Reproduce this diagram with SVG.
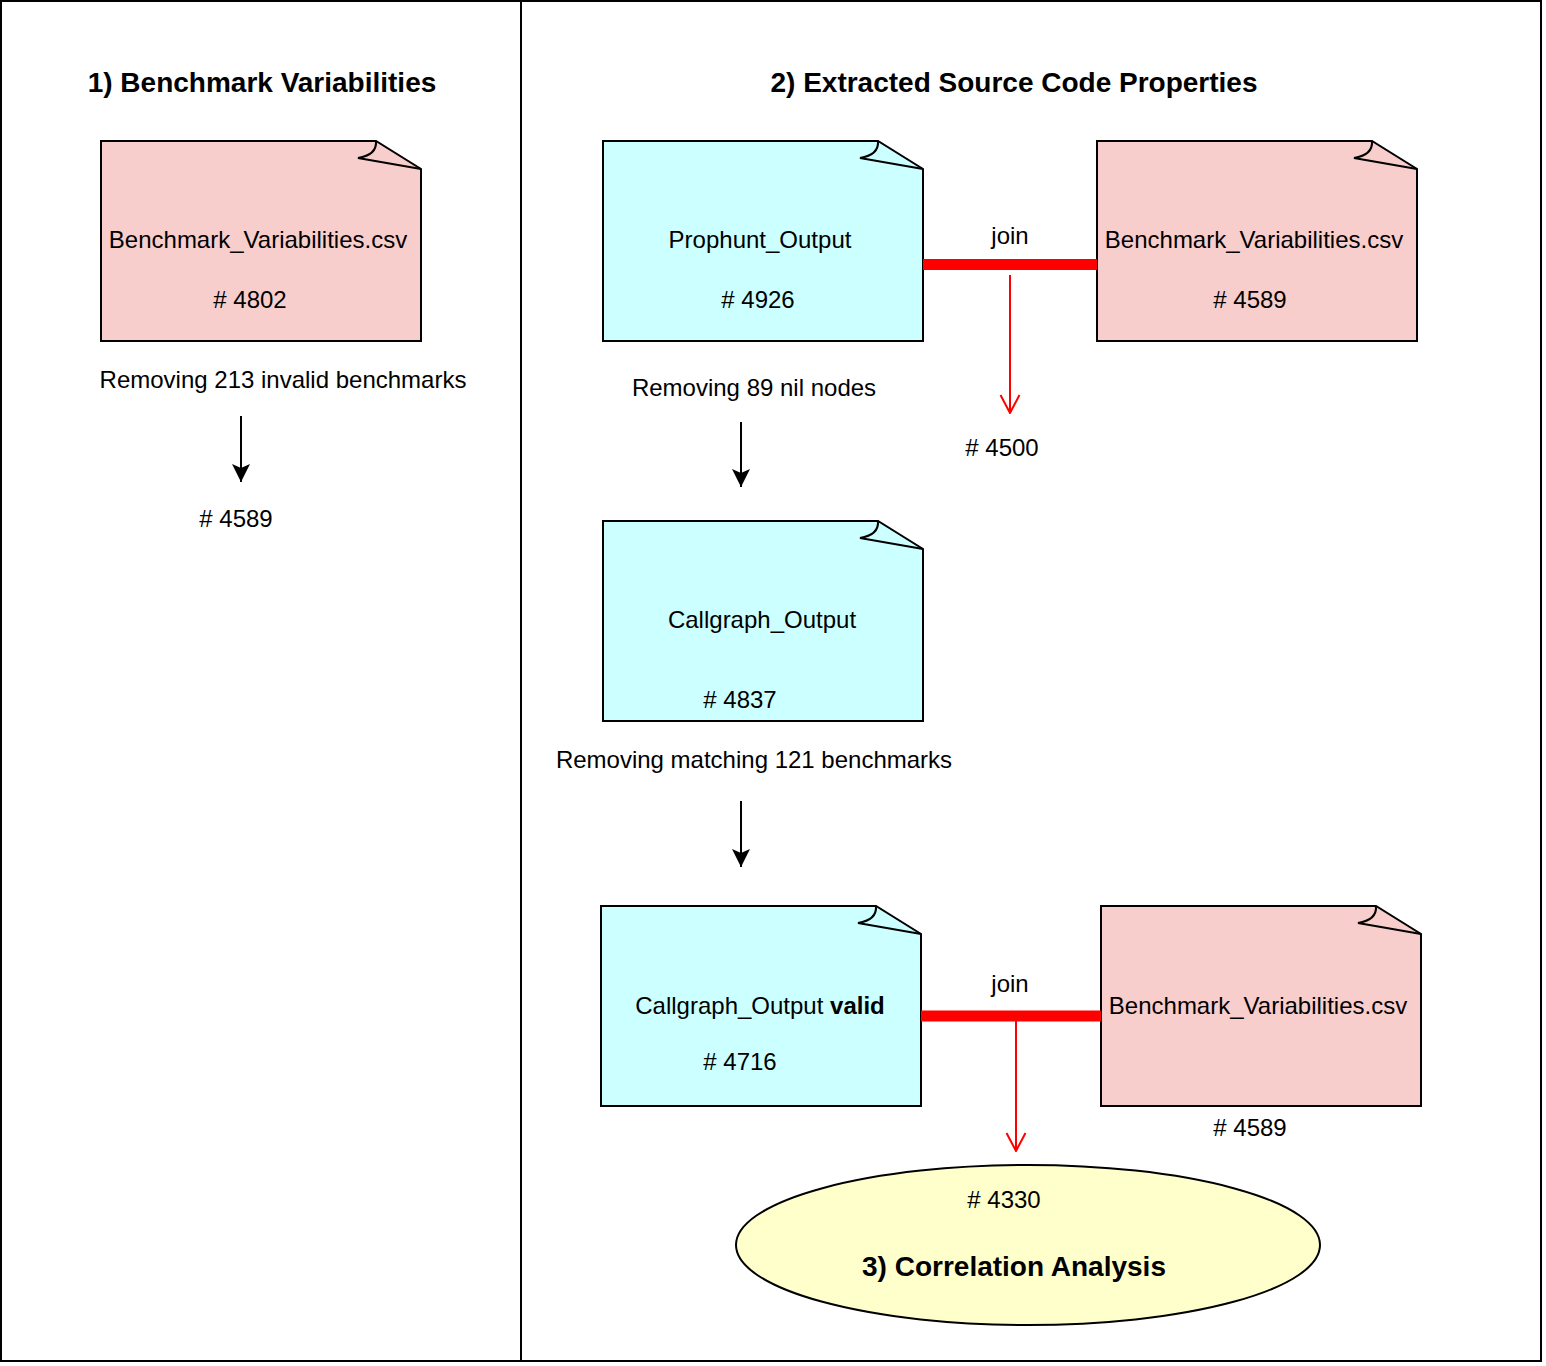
<svg xmlns="http://www.w3.org/2000/svg" width="1546" height="1366" viewBox="0 0 1546 1366">
<style>
text{font-family:"Liberation Sans",Arial,Helvetica,sans-serif;fill:#000;}
.t{font-size:24px;text-anchor:middle;}
.h{font-size:28px;font-weight:bold;text-anchor:middle;}
.doc{stroke:#000;stroke-width:2;}
.pink{fill:#F8CECC;}
.cyan{fill:#CCFFFF;}
.fold{fill:none;stroke:#000;stroke-width:2;}
.blk{stroke:#000;stroke-width:2;fill:none;}
.red{stroke:#FF0000;stroke-width:2;fill:none;}
.join{stroke:#FF0000;stroke-width:11;fill:none;}
</style>
<defs>
<marker id="ab" markerUnits="userSpaceOnUse" viewBox="0 0 18 20" refX="18" refY="10" markerWidth="18" markerHeight="20" orient="auto">
<path d="M0,1 L18,10 L0,19 L4,10 Z" fill="#000"/>
</marker>
<marker id="ar" markerUnits="userSpaceOnUse" viewBox="0 0 20 22" refX="19" refY="11" markerWidth="20" markerHeight="22" orient="auto">
<path d="M1,1.5 L19,11 L1,20.5" fill="none" stroke="#FF0000" stroke-width="2"/>
</marker>
</defs>
<rect x="0" y="0" width="1546" height="1366" fill="#fff"/>
<g id="frame">
<rect x="1" y="1" width="1540" height="1360" fill="none" stroke="#000" stroke-width="2"/>
<line x1="521" y1="1" x2="521" y2="1361" stroke="#000" stroke-width="2"/>
</g>
<g id="titles">
<text class="h" x="262" y="92">1) Benchmark Variabilities</text>
<text class="h" x="1014" y="92">2) Extracted Source Code Properties</text>
</g>
<g id="bench1">
<path class="doc pink" d="M101,141 H376 L421,169 V341 H101 Z"/>
<path class="fold" d="M376,141 Q377,155 358,158 L421,169"/>
<text class="t" x="258" y="248">Benchmark_Variabilities.csv</text>
<text class="t" x="250" y="308"># 4802</text>
</g>
<g id="label-remove213">
<text class="t" x="283" y="388">Removing 213 invalid benchmarks</text>
</g>
<g id="label-4589a">
<text class="t" x="236" y="527"># 4589</text>
</g>
<g id="prophunt">
<path class="doc cyan" d="M603,141 H878 L923,169 V341 H603 Z"/>
<path class="fold" d="M878,141 Q879,155 860,158 L923,169"/>
<text class="t" x="760" y="248">Prophunt_Output</text>
<text class="t" x="758" y="308"># 4926</text>
</g>
<g id="bench2">
<path class="doc pink" d="M1097,141 H1372 L1417,169 V341 H1097 Z"/>
<path class="fold" d="M1372,141 Q1373,155 1354,158 L1417,169"/>
<text class="t" x="1254" y="248">Benchmark_Variabilities.csv</text>
<text class="t" x="1250" y="308"># 4589</text>
</g>
<g id="label-join1">
<text class="t" x="1010" y="244">join</text>
</g>
<g id="label-4500">
<text class="t" x="1002" y="456"># 4500</text>
</g>
<g id="label-remove89">
<text class="t" x="754" y="396">Removing 89 nil nodes</text>
</g>
<g id="callgraph">
<path class="doc cyan" d="M603,521 H878 L923,549 V721 H603 Z"/>
<path class="fold" d="M878,521 Q879,535 860,538 L923,549"/>
<text class="t" x="762" y="628">Callgraph_Output</text>
<text class="t" x="740" y="708"># 4837</text>
</g>
<g id="label-remove121">
<text class="t" x="754" y="768">Removing matching 121 benchmarks</text>
</g>
<g id="callgraph-valid">
<path class="doc cyan" d="M601,906 H876 L921,934 V1106 H601 Z"/>
<path class="fold" d="M876,906 Q877,920 858,923 L921,934"/>
<text class="t" x="760" y="1014">Callgraph_Output <tspan font-weight="bold">valid</tspan></text>
<text class="t" x="740" y="1070"># 4716</text>
</g>
<g id="bench3">
<path class="doc pink" d="M1101,906 H1376 L1421,934 V1106 H1101 Z"/>
<path class="fold" d="M1376,906 Q1377,920 1358,923 L1421,934"/>
<text class="t" x="1258" y="1014">Benchmark_Variabilities.csv</text>
</g>
<g id="label-4589b">
<text class="t" x="1250" y="1136"># 4589</text>
</g>
<g id="label-join2">
<text class="t" x="1010" y="992">join</text>
</g>
<g id="correlation">
<ellipse cx="1028" cy="1245" rx="292" ry="80" fill="#FFFFCC" stroke="#000" stroke-width="2"/>
<text class="t" x="1004" y="1208"># 4330</text>
<text class="h" x="1014" y="1276">3) Correlation Analysis</text>
</g>
<g id="connectors">
<line class="blk" x1="241" y1="416" x2="241" y2="482" marker-end="url(#ab)"/>
<line class="blk" x1="741" y1="422" x2="741" y2="487" marker-end="url(#ab)"/>
<line class="blk" x1="741" y1="801" x2="741" y2="867" marker-end="url(#ab)"/>
<line class="join" x1="923" y1="264.5" x2="1097" y2="264.5"/>
<line class="red" x1="1010" y1="275" x2="1010" y2="413" marker-end="url(#ar)"/>
<line class="join" x1="921" y1="1016" x2="1101" y2="1016"/>
<line class="red" x1="1016" y1="1021" x2="1016" y2="1151" marker-end="url(#ar)"/>
</g>
</svg>
